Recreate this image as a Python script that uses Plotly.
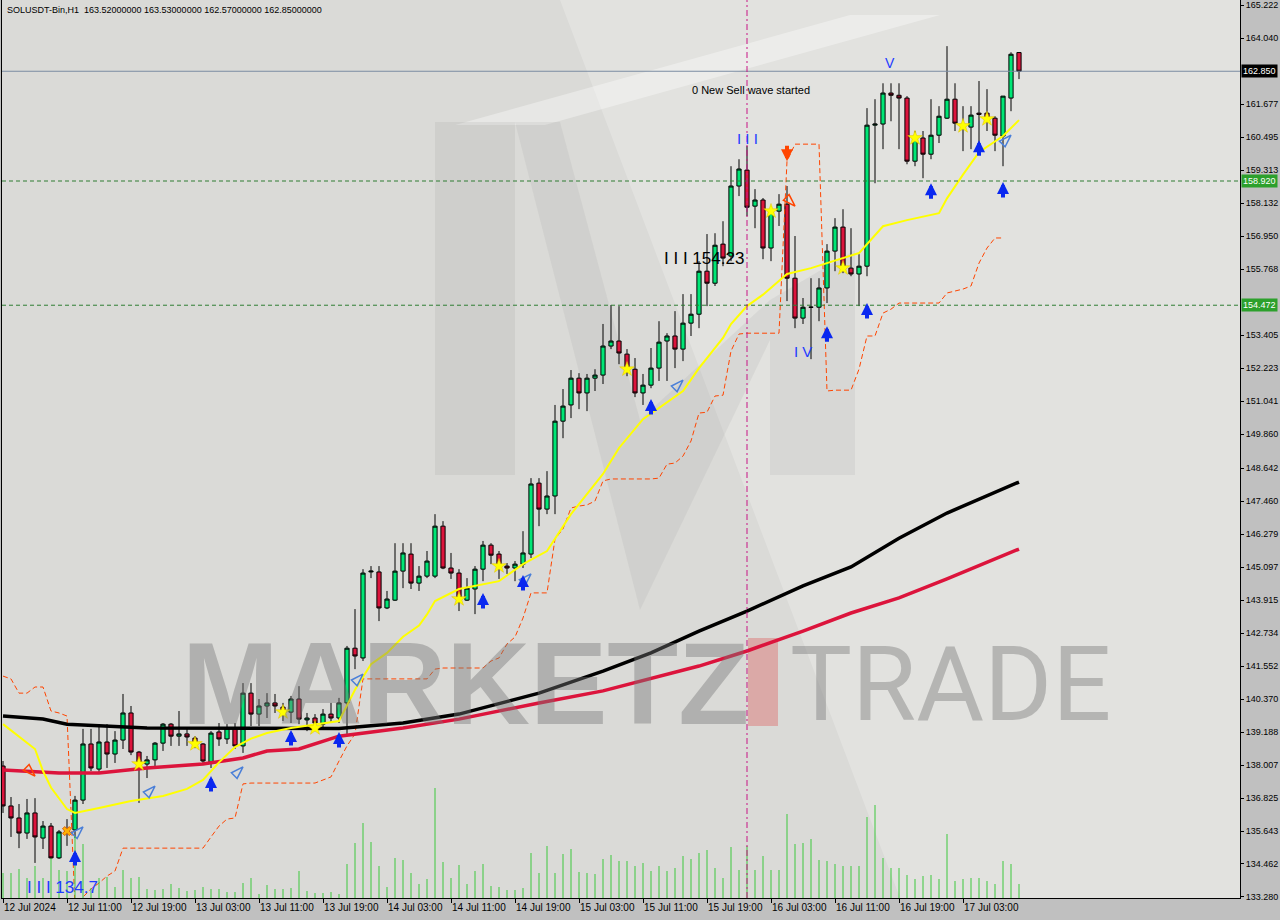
import plotly.graph_objects as go

# ---------------- data ----------------
symbol_title = "SOLUSDT-Bin,H1  163.52000000 163.53000000 162.57000000 162.85000000"

opens = [137.97,136.54,136.11,135.57,136.29,135.39,135.82,134.68,135.61,135.68,
         136.75,138.76,137.86,138.83,138.40,138.90,139.87,138.47,138.04,138.19,
         138.79,139.47,139.04,139.12,138.97,138.76,138.11,139.19,138.94,139.33,
         138.69,140.58,139.83,140.12,140.23,140.08,139.90,140.37,139.62,139.69,
         139.47,139.83,139.69,140.23,142.19,141.84,144.92,144.92,143.63,143.91,
         144.95,145.56,144.52,144.77,144.77,146.56,145.06,144.88,143.91,144.31,
         145.02,145.88,145.56,145.13,145.06,145.20,145.56,148.10,147.17,147.64,
         150.32,150.90,151.86,151.33,151.86,151.97,153.01,153.19,152.72,152.18,
         151.33,151.61,152.22,153.19,153.37,152.90,153.83,154.15,155.69,155.26,
         156.66,156.23,158.74,159.31,158.02,158.24,156.52,157.84,158.09,155.44,
         154.01,154.40,154.40,155.09,156.41,157.27,155.80,155.59,155.87,160.92,
         160.96,162.07,161.99,161.89,159.63,160.46,159.88,160.56,161.17,161.85,
         160.89,160.85,161.35,161.35,161.17,160.53,161.89,163.52]
highs = [138.15,136.86,136.61,136.79,136.82,136.00,135.93,135.68,136.07,136.90,
         139.30,139.30,139.40,139.47,139.22,140.55,140.12,138.51,138.33,138.83,
         139.51,139.51,139.94,139.30,139.04,138.79,139.22,139.51,139.47,139.51,
         140.94,140.94,140.37,140.58,140.55,140.23,140.48,140.83,139.87,139.83,
         140.01,140.23,140.41,142.27,143.59,145.02,145.13,145.13,144.24,145.95,
         145.95,145.95,145.13,145.67,146.99,146.74,145.60,145.02,144.70,145.13,
         146.03,145.95,145.67,145.24,145.31,146.38,148.28,148.28,148.53,150.90,
         151.47,152.15,152.04,152.01,152.18,153.80,154.48,154.44,152.90,152.58,
         152.01,152.94,153.90,153.47,154.26,154.87,154.87,156.05,157.02,157.05,
         157.48,159.45,159.70,160.17,158.63,158.31,158.02,158.45,158.74,156.95,
         154.73,155.44,155.44,156.66,157.59,157.91,157.23,156.30,161.53,161.85,
         162.42,162.42,162.42,161.96,160.71,160.71,161.85,161.60,163.75,162.42,
         161.60,161.60,162.50,162.21,161.24,161.96,163.53,163.53]
lows = [136.29,135.43,135.03,135.36,134.50,135.00,134.64,134.64,135.11,135.39,
        136.61,137.79,137.72,137.90,138.08,138.58,138.36,136.65,137.54,137.97,
        138.51,138.69,138.69,138.69,138.61,138.08,137.90,138.69,138.76,138.58,
        138.44,139.40,139.40,139.69,139.87,139.58,139.51,139.47,139.22,139.22,
        139.33,139.51,139.51,139.12,141.44,141.73,144.70,143.16,143.59,143.88,
        144.34,144.31,144.24,144.70,144.70,145.02,144.67,143.52,143.88,143.41,
        144.59,145.20,144.67,144.85,144.59,145.06,145.42,146.56,146.99,146.99,
        149.71,150.43,150.75,150.68,151.40,151.65,152.90,152.36,151.93,151.18,
        150.90,151.50,151.76,151.76,152.22,152.47,153.37,153.65,154.44,155.16,
        155.87,156.05,158.38,157.66,157.23,156.12,156.05,157.31,154.62,153.65,
        153.80,152.54,153.90,154.55,155.69,155.62,155.51,154.44,155.51,158.84,
        160.06,161.06,160.06,159.52,159.45,159.02,159.70,160.28,161.14,160.71,
        159.99,160.06,160.06,160.71,159.99,159.45,161.42,162.57]
closes = [136.54,136.11,135.57,136.29,135.43,135.82,134.68,135.61,135.66,136.75,
          138.76,137.90,138.83,138.40,138.90,139.87,138.47,138.08,138.19,138.79,
          139.47,139.04,139.12,139.01,138.76,138.15,139.15,138.94,139.33,138.69,
          140.58,139.83,140.12,140.23,140.12,139.90,140.37,139.65,139.69,139.51,
          139.83,139.69,140.23,142.19,141.91,144.88,144.95,143.63,143.95,144.95,
          145.60,144.52,144.77,145.31,146.56,145.06,144.88,143.99,144.34,145.02,
          145.88,145.52,145.13,145.06,145.20,145.60,148.07,147.17,147.64,150.32,
          150.86,151.86,151.33,151.86,151.97,153.01,153.19,152.76,152.18,151.33,
          151.61,152.22,153.15,153.37,152.90,153.83,154.15,155.69,155.26,156.62,
          156.16,158.74,159.35,157.98,158.24,156.52,157.84,158.09,155.44,154.01,
          154.40,154.40,155.09,156.41,157.27,155.87,155.59,155.87,160.92,160.96,
          162.07,161.99,161.89,159.63,160.46,159.88,160.56,161.24,161.85,160.99,
          160.85,161.28,161.31,161.10,160.56,161.96,163.46,162.85]
tick_volumes = [250,250,290,200,320,200,400,280,270,620,540,100,200,210,110,280,
                200,210,90,80,90,140,100,70,80,110,90,90,60,60,150,200,40,130,90,
                90,100,270,70,50,50,60,40,340,550,750,560,320,110,400,380,250,140,
                190,1100,360,200,330,140,270,340,120,110,80,80,100,450,250,520,250,
                440,490,260,250,240,390,430,370,370,320,350,270,320,270,300,420,390,
                450,480,300,200,510,280,520,280,420,280,280,840,540,550,590,380,370,
                340,320,320,320,810,930,400,300,300,230,190,220,230,190,640,170,190,
                200,200,170,140,370,340,140]

# moving averages sampled at bars: (bar, value)
yellow_bars = [0,2,4,5,6,8,9,12,16,20,23,25,27,29,31,33,36,42,44,46,48,50,52,53,54,57,
               62,65,68,71,75,77,80,85,87,90,91,93,95,98,101,107,108,110,113,117,118,
               120,122,125,127]
yellow_vals = [139.47,139.04,138.58,137.79,137.20,136.43,136.29,136.47,136.72,136.90,
               137.15,137.47,138.10,138.65,138.95,139.15,139.33,139.58,140.70,141.62,
               142.02,142.60,143.00,143.40,143.88,144.31,144.59,145.20,145.67,146.99,
               148.43,149.36,150.39,151.40,152.22,153.30,153.80,154.44,154.85,155.59,
               155.80,156.34,156.66,157.30,157.52,157.77,158.30,159.15,159.95,160.53,
               161.10]
black_bars = [0,5,8,18,42,50,57,67,75,81,87,93,100,106,112,118,127]
black_vals = [139.76,139.65,139.47,139.33,139.31,139.51,139.83,140.58,141.37,142.02,
              142.80,143.52,144.42,145.10,146.13,147.03,148.14]
red_bars = [0,7,12,18,25,30,33,37,42,50,57,67,75,87,93,100,106,112,118,127]
red_vals = [137.83,137.72,137.72,137.90,138.04,138.26,138.51,138.58,139.04,139.33,
            139.65,140.23,140.66,141.55,142.09,142.80,143.45,143.99,144.67,145.74]
# stepped trailing band (orange dashed), one value per bar
band_vals = [141.19,141.09,140.58,140.58,140.80,140.80,139.94,139.87,139.76,132.96,
             133.28,133.57,133.78,134.03,134.21] + [135.03]*11 + \
            [135.43,135.82,136.07,136.11,137.33] + [137.36]*9 + \
            [137.47,137.58,138.15,138.69,139.12] + [141.09]*9 + [141.44] + [141.48]*6 + \
            [141.73,141.84,142.34,142.59,143.27,144.17,144.17,144.17,146.10,146.46,
             147.21,147.28,147.32,147.46,148.18] + [148.25]*6 + \
            [148.28,148.78,148.82,149.07,149.61,150.61,150.64,151.22,151.25,152.83,153.44] + \
            [153.47]*5 + [159.63] + [160.24]*4 + [151.40] + [151.43]*3 + \
            [152.18,153.37,153.37,154.19,154.33] + [154.55]*6 + \
            [154.91,154.98,155.05,155.16,155.98,156.52,156.88,156.88,None,None]

# signals
buy_arrow_bars = [9,26,36,42,60,65,81,103,108,116,122,125]
buy_arrow_prices = [134.96,137.61,139.26,139.19,144.17,144.81,151.11,153.72,154.55,158.84,160.38,158.88]
hollow_up_bars = [10,19,30,45,66,85,126]
hollow_up_prices = [135.79,137.25,137.94,141.26,144.85,151.79,160.56]
hollow_dn_bars = [4,99]
hollow_dn_prices = [137.61,158.02]
sell_arrow_bars = [98]
sell_arrow_prices = [159.63]
star_bars = [17,24,35,39,57,62,78,96,105,114,120,123]
star_prices = [138.04,138.76,139.90,139.33,143.95,145.13,152.18,157.84,155.80,160.46,160.89,161.14]
cross_bars = [8]
cross_prices = [135.64]

current_price = 162.85
level_hi = 158.920
level_lo = 154.472
separator_bar = 93

x_tick_bars = [0,8,16,24,32,40,48,56,64,72,80,88,96,104,112,120]
x_tick_labels = ["12 Jul 2024","12 Jul 11:00","12 Jul 19:00","13 Jul 03:00","13 Jul 11:00",
                 "13 Jul 19:00","14 Jul 03:00","14 Jul 11:00","14 Jul 19:00","15 Jul 03:00",
                 "15 Jul 11:00","15 Jul 19:00","16 Jul 03:00","16 Jul 11:00","16 Jul 19:00",
                 "17 Jul 03:00"]
price_ticks = [133.280,134.462,135.643,136.825,138.007,139.188,140.370,141.552,142.734,
               143.915,145.097,146.279,147.460,148.642,149.860,151.041,152.223,153.405,
               155.768,156.950,158.132,159.313,160.495,161.677,164.040,165.222]

# ---------------- figure ----------------
W, H = 1280, 920
ML, MR, MT, MB = 2, 40, 0, 22
PW, PH = W - ML - MR, H - MT - MB

def px(x, y):
    return (x - ML) / PW, 1 - (y - MT) / PH

def poly(points):
    s = ""
    for k, (a, b) in enumerate(points):
        u, v = px(a, b)
        s += ("M" if k == 0 else "L") + f"{u:.5f},{v:.5f} "
    return s + "Z"

def deco(points, fill):
    return dict(type="path", xref="paper", yref="paper", layer="below",
                path=poly(points), fillcolor=fill, line=dict(width=0))

shapes = []
# soft background gradient / watermark logo (decoration in paper coords)
shapes.append(deco([(2,0),(1240,0),(1240,898),(900,898),(560,0)], "rgba(255,255,255,0.22)"))
shapes.append(deco([(455,125),(545,125),(940,15),(850,15)], "rgba(255,255,255,0.35)"))
shapes.append(deco([(435,122),(515,122),(515,475),(435,475)], "rgba(150,150,150,0.16)"))
shapes.append(deco([(515,122),(560,122),(640,420),(770,300),(770,340),(640,610)], "rgba(150,150,150,0.13)"))
shapes.append(deco([(770,300),(855,250),(855,475),(770,475)], "rgba(150,150,150,0.13)"))
# red "I" of the watermark
shapes.append(dict(type="rect", xref="paper", yref="paper", layer="below",
                   x0=px(748,0)[0], x1=px(778,0)[0], y0=px(0,726)[1], y1=px(0,638)[1],
                   fillcolor="rgba(220,120,120,0.5)", line=dict(width=0)))
# price levels
shapes.append(dict(type="line", xref="paper", yref="y", x0=0, x1=1, y0=current_price, y1=current_price,
                   line=dict(color="#7B8CA3", width=1)))
for lv in (level_hi, level_lo):
    shapes.append(dict(type="line", xref="paper", yref="y", x0=0, x1=1, y0=lv, y1=lv,
                       line=dict(color="#2E7D32", width=1, dash="4px,3px")))
shapes.append(dict(type="line", xref="x", yref="paper", x0=separator_bar, x1=separator_bar, y0=0, y1=1,
                   line=dict(color="#C71585", width=1, dash="6px,3px,2px,3px")))

fig = go.Figure()
bars = list(range(len(opens)))

# volumes (thin green lines from the bottom)
vx, vy = [], []
for b, v in zip(bars, tick_volumes):
    vx += [b, b, None]
    vy += [0, v, None]
fig.add_trace(go.Scatter(x=vx, y=vy, mode="lines", yaxis="y2",
                         line=dict(color="#3CC83C", width=1), hoverinfo="skip", showlegend=False))

fig.add_trace(go.Scatter(x=[b for b, v in zip(bars, band_vals) if v is not None],
                         y=[v for v in band_vals if v is not None], mode="lines",
                         line=dict(color="#FF4500", width=1, dash="5px,3px"),
                         hoverinfo="skip", showlegend=False))

fig.add_trace(go.Candlestick(x=bars, open=opens, high=highs, low=lows, close=closes,
                             increasing=dict(fillcolor="#00E676", line=dict(color="black", width=1)),
                             decreasing=dict(fillcolor="#DC143C", line=dict(color="black", width=1)),
                             whiskerwidth=0, hoverinfo="skip", showlegend=False))

fig.add_trace(go.Scatter(x=black_bars, y=black_vals, mode="lines",
                         line=dict(color="black", width=3.5), hoverinfo="skip", showlegend=False))
fig.add_trace(go.Scatter(x=red_bars, y=red_vals, mode="lines",
                         line=dict(color="#DC143C", width=3.5), hoverinfo="skip", showlegend=False))
fig.add_trace(go.Scatter(x=yellow_bars, y=yellow_vals, mode="lines",
                         line=dict(color="#FFFF00", width=2), hoverinfo="skip", showlegend=False))

fig.add_trace(go.Scatter(x=star_bars, y=star_prices, mode="markers",
                         marker=dict(symbol="star", size=11, color="#FFFF00",
                                     line=dict(color="#E0C000", width=0.5)),
                         hoverinfo="skip", showlegend=False))
fig.add_trace(go.Scatter(x=cross_bars, y=cross_prices, mode="markers",
                         marker=dict(symbol="x", size=8, color="#FFB000",
                                     line=dict(color="#E06000", width=1)),
                         hoverinfo="skip", showlegend=False))
fig.add_trace(go.Scatter(x=hollow_up_bars, y=hollow_up_prices, mode="markers",
                         marker=dict(symbol="arrow-open", angle=45, size=13, color="#4A7FD8",
                                     line=dict(color="#4A7FD8", width=1.5)),
                         hoverinfo="skip", showlegend=False))
fig.add_trace(go.Scatter(x=hollow_dn_bars, y=hollow_dn_prices, mode="markers",
                         marker=dict(symbol="arrow-open", angle=135, size=13, color="#FF4500",
                                     line=dict(color="#FF4500", width=1.5)),
                         hoverinfo="skip", showlegend=False))

annotations = []
for b, p in zip(buy_arrow_bars, buy_arrow_prices):
    annotations.append(dict(x=b, y=p, xref="x", yref="y", text="", showarrow=True,
                            ax=0, ay=17, arrowhead=2, arrowsize=0.6, arrowwidth=4,
                            arrowcolor="#0A28F0", standoff=0, startstandoff=0))
for b, p in zip(sell_arrow_bars, sell_arrow_prices):
    annotations.append(dict(x=b, y=p, xref="x", yref="y", text="", showarrow=True,
                            ax=0, ay=-17, arrowhead=2, arrowsize=0.6, arrowwidth=4,
                            arrowcolor="#FF4500", standoff=0, startstandoff=0))

def label(text, x, y, color, size, xanchor="center", family="Liberation Sans"):
    annotations.append(dict(x=x, y=y, xref="x", yref="y", text=text, showarrow=False,
                            xanchor=xanchor, yanchor="middle",
                            font=dict(color=color, size=size, family=family)))

label("0 New Sell wave started", 85.9, 162.18, "black", 11, xanchor="left")
label("I I I", 93, 160.46, "#1E3CFF", 15)
label("V", 110.9, 163.15, "#1E3CFF", 14)
label("I V", 100, 152.80, "#1E3CFF", 15)
label("I I I 154.23", 82.4, 156.13, "black", 17, xanchor="left")
label("I I I 134.7", 2.75, 133.62, "#1E3CFF", 17, xanchor="left")

# watermark wordmark
annotations.append(dict(x=px(180, 0)[0], y=px(0, 684)[1], xref="paper", yref="paper",
                        text="<b>MARKETZ</b>", showarrow=False, xanchor="left", yanchor="middle",
                        font=dict(size=116, color="rgba(120,120,120,0.42)", family="Liberation Sans")))
annotations.append(dict(x=px(788, 0)[0], y=px(0, 684)[1], xref="paper", yref="paper",
                        text="TRADE", showarrow=False, xanchor="left", yanchor="middle",
                        font=dict(size=104, color="rgba(120,120,120,0.42)", family="Roboto")))

# title
annotations.append(dict(x=px(5, 0)[0], y=px(0, 10)[1], xref="paper", yref="paper",
                        text=symbol_title, showarrow=False, xanchor="left", yanchor="middle",
                        font=dict(size=9, color="black", family="Liberation Sans")))

# price tags on the right axis
for val, bg in ((current_price, "black"), (level_hi, "#2CA02C"), (level_lo, "#2CA02C")):
    annotations.append(dict(x=1, y=val, xref="paper", yref="y", text=f"{val:.3f}",
                            showarrow=False, xanchor="left", yanchor="middle", xshift=1,
                            bgcolor=bg, borderpad=1,
                            font=dict(size=9, color="white", family="Liberation Sans")))

fig.update_layout(
    width=W, height=H,
    margin=dict(l=ML, r=MR, t=MT, b=MB, autoexpand=False),
    paper_bgcolor="#C0C0C0",
    plot_bgcolor="#DADAD7",
    shapes=shapes,
    annotations=annotations,
    boxgap=0.25,
    showlegend=False,
    xaxis=dict(range=[-0.125, 154.625], showgrid=False, zeroline=False, automargin=False,
               rangeslider=dict(visible=False), tickangle=0,
               tickvals=x_tick_bars, ticktext=x_tick_labels, ticks="outside", ticklen=4,
               tickcolor="black", ticklabelposition="outside right",
               tickfont=dict(size=10, color="black", family="Liberation Sans"),
               showline=True, linecolor="black", linewidth=1),
    yaxis=dict(range=[133.244, 165.402], side="right", showgrid=False, zeroline=False,
               automargin=False,
               tickvals=price_ticks, ticktext=[f"{t:.3f}" for t in price_ticks],
               ticks="outside", ticklen=3, tickcolor="black",
               tickfont=dict(size=9, color="black", family="Liberation Sans"),
               showline=True, linecolor="black", linewidth=1, mirror=True),
    yaxis2=dict(range=[0, 8980], overlaying="y", visible=False, fixedrange=True),
)

fig.write_html("out.html", config={"displayModeBar": False},
               post_script="document.body.style.margin='0';document.body.style.background='#C0C0C0';")
